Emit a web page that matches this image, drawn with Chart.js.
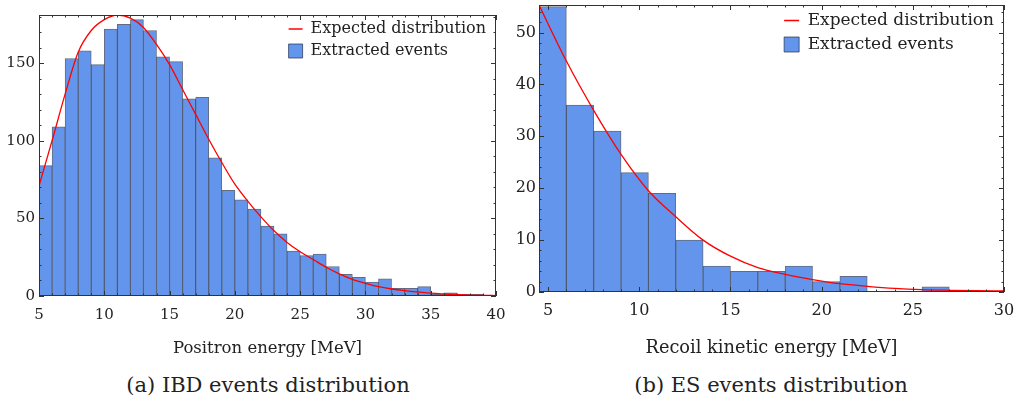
<!DOCTYPE html>
<html>
<head>
<meta charset="utf-8">
<script src="https://cdn.jsdelivr.net/npm/chart.js@4.4.0/dist/chart.umd.min.js"></script>
<style>
  html, body { margin: 0; padding: 0; background: #fff; }
  body { position: relative; width: 1015px; height: 398px; overflow: hidden; font-family: "DejaVu Serif", serif; color: #222; }
  canvas { position: absolute; top: 0; }
  .caption { position: absolute; top: 372px; width: 400px; text-align: center; font-size: 21px; line-height: 26px; }
</style>
</head>
<body>
<canvas id="ibd" width="510" height="362" style="left:0"></canvas>
<canvas id="es" width="505" height="362" style="left:510px"></canvas>
<div class="caption" style="left:68px">(a) IBD events distribution</div>
<div class="caption" style="left:571px">(b) ES events distribution</div>
<script>
// IBD events: positron energy, 1 MeV bins from 5 to 40 MeV
const ibdBinLow = [5, 6, 7, 8, 9, 10, 11, 12, 13, 14, 15, 16, 17, 18, 19, 20, 21, 22,
                   23, 24, 25, 26, 27, 28, 29, 30, 31, 32, 33, 34, 35, 36, 37, 38, 39];
const ibdBinWidth = 1;
const ibdCounts = [84, 109, 153, 158, 149, 172, 175, 178, 171, 154, 151, 127, 128, 89, 68, 62, 56, 45,
                   40, 29, 26, 27, 19, 14, 12, 9, 11, 5, 5, 6, 1, 2, 1, 1, 0];
// expected spectrum, sampled every MeV
const ibdCurveE = [5, 6, 7, 8, 9, 10, 11, 12, 13, 14, 15, 16, 17, 18, 19, 20, 21, 22,
                   23, 24, 25, 26, 27, 28, 29, 30, 31, 32, 33, 34, 35, 36, 37, 38, 39, 40];
const ibdCurveN = [71, 100, 130, 157, 171, 178, 181, 179, 173, 162, 149, 133, 117, 101, 86, 72, 61, 51,
                   42, 34.5, 28.5, 23.5, 18.5, 14.2, 10.7, 8.2, 6, 4.5, 3.4, 2.6, 1.8, 1.3, 0.9, 0.6, 0.4, 0.3];
const ibdTicksX = [5, 10, 15, 20, 25, 30, 35, 40];
const ibdTicksY = [0, 50, 100, 150];

// ES events: recoil kinetic energy, 1.5 MeV bins from 4.5 to 30 MeV
const esBinLow = [4.5, 6, 7.5, 9, 10.5, 12, 13.5, 15, 16.5, 18, 19.5, 21, 22.5, 24, 25.5, 27, 28.5];
const esBinWidth = 1.5;
const esCounts = [55, 36, 31, 23, 19, 10, 5, 4, 4, 5, 2, 3, 0, 0, 1, 0, 0];
const esCurveE = [4.5, 6, 7.5, 9, 10.5, 12, 13.5, 15, 16.5, 18, 19.5, 21, 22.5, 24, 25.5, 27, 28.5, 30];
const esCurveN = [55.3, 44.5, 35, 26.5, 19.5, 14.5, 10, 6.9, 4.7, 3.4, 2.4, 1.6, 1.1, 0.7, 0.45, 0.33, 0.25, 0.2];
const esTicksX = [5, 10, 15, 20, 25, 30];
const esTicksY = [0, 10, 20, 30, 40, 50];

const textColor = '#222';
const serif = 'DejaVu Serif';

// boxed frame with inward major/minor ticks on all four sides
const frameTicks = {
    id: 'frameTicks',
    afterDatasetsDraw(chart, args, opts) {
        const {ctx, chartArea: a, scales: {x, y}} = chart;
        const xMajor = x.ticks.map(t => t.value);
        const yMajor = y.ticks.map(t => t.value);
        ctx.save();
        ctx.strokeStyle = '#333';
        ctx.lineWidth = 1;
        ctx.beginPath();
        for (let k = Math.ceil(x.min / opts.xStep - 1e-9); k * opts.xStep <= x.max + 1e-9; k++) {
            const v = k * opts.xStep;
            const px = Math.round(x.getPixelForValue(v)) + 0.5;
            const len = xMajor.includes(v) ? 5 : 2.5;
            ctx.moveTo(px, a.bottom); ctx.lineTo(px, a.bottom - len);
            ctx.moveTo(px, a.top); ctx.lineTo(px, a.top + len);
        }
        for (let k = Math.ceil(y.min / opts.yStep - 1e-9); k * opts.yStep <= y.max + 1e-9; k++) {
            const v = k * opts.yStep;
            const py = Math.round(y.getPixelForValue(v)) + 0.5;
            const len = yMajor.includes(v) ? 5 : 2.5;
            ctx.moveTo(a.left, py); ctx.lineTo(a.left + len, py);
            ctx.moveTo(a.right, py); ctx.lineTo(a.right - len, py);
        }
        ctx.stroke();
        ctx.strokeRect(a.left + 0.5, a.top + 0.5, a.right - a.left - 1, a.bottom - a.top - 1);
        ctx.restore();
    }
};

// move the legend into the upper right corner of the plot
const legendInside = {
    id: 'legendInside',
    afterLayout(chart) {
        const lg = chart.legend, a = chart.chartArea;
        lg.left = a.right - lg.width;
        lg.right = a.right;
        lg.top = a.top;
        lg.bottom = a.top + lg.height;
    }
};

function histogram(p) {
    const bars = p.binLow.map((lo, i) => ({x: lo + p.binWidth / 2, y: p.counts[i]}));
    const curve = p.curveE.map((e, i) => ({x: e, y: p.curveN[i]}));
    return {
        type: 'bar',
        data: {
            datasets: [
                {
                    type: 'line',
                    label: 'Expected distribution',
                    data: curve,
                    borderColor: '#ff0000',
                    borderWidth: 1.3,
                    pointRadius: 0,
                    pointStyle: 'line',
                    cubicInterpolationMode: 'monotone',
                    fill: false
                },
                {
                    label: 'Extracted events',
                    data: bars,
                    backgroundColor: '#6495ED',
                    borderColor: 'rgba(30, 45, 80, 0.7)',
                    borderWidth: 1,
                    pointStyle: 'rect',
                    barPercentage: 1,
                    categoryPercentage: 1,
                    grouped: false
                }
            ]
        },
        options: {
            responsive: false,
            animation: false,
            events: [],
            layout: {padding: p.padding},
            plugins: {
                legend: {
                    position: 'chartArea',
                    align: 'start',
                    labels: {
                        usePointStyle: true,
                        pointStyleWidth: p.legendBox,
                        boxWidth: p.legendBox,
                        boxHeight: p.legendBox,
                        padding: p.legendGap,
                        color: textColor,
                        font: {family: serif, size: p.legendSize}
                    }
                },
                tooltip: {enabled: false},
                frameTicks: {xStep: 1, yStep: p.yMinor}
            },
            scales: {
                x: {
                    type: 'linear',
                    min: p.xMin,
                    max: p.xMax,
                    offset: false,
                    grid: {display: false, drawTicks: false},
                    border: {display: false},
                    ticks: {padding: p.xTickPad, color: textColor, maxRotation: 0, autoSkip: false,
                            font: {family: serif, size: p.tickSize}},
                    afterBuildTicks: s => { s.ticks = p.ticksX.map(v => ({value: v})); },
                    afterFit: s => { s.height = p.xAxisHeight; s.paddingLeft = 0; s.paddingRight = 0; },
                    title: {
                        display: true,
                        text: p.xTitle,
                        color: textColor,
                        padding: {top: 0, bottom: 3},
                        font: {family: serif, size: p.titleSize}
                    }
                },
                y: {
                    min: 0,
                    max: p.yMax,
                    grid: {display: false, drawTicks: false},
                    border: {display: false},
                    ticks: {padding: p.yTickPad, color: textColor, font: {family: serif, size: p.tickSize}},
                    afterBuildTicks: s => { s.ticks = p.ticksY.map(v => ({value: v})); },
                    afterFit: s => { s.width = p.yAxisWidth; s.paddingTop = 0; s.paddingBottom = 0; }
                }
            }
        },
        plugins: [frameTicks, legendInside]
    };
}

new Chart(document.getElementById('ibd'), histogram({
    binLow: ibdBinLow, binWidth: ibdBinWidth, counts: ibdCounts,
    curveE: ibdCurveE, curveN: ibdCurveN, ticksX: ibdTicksX, ticksY: ibdTicksY,
    xMin: 5, xMax: 40, yMax: 181, yMinor: 10,
    xTitle: 'Positron energy [MeV]',
    padding: {top: 15, right: 14, left: 0, bottom: 0},
    yAxisWidth: 39, xAxisHeight: 66, xTickPad: 10, yTickPad: 4,
    tickSize: 15, titleSize: 16.5, legendSize: 16, legendBox: 14, legendGap: 6
}));

new Chart(document.getElementById('es'), histogram({
    binLow: esBinLow, binWidth: esBinWidth, counts: esCounts,
    curveE: esCurveE, curveN: esCurveN, ticksX: esTicksX, ticksY: esTicksY,
    xMin: 4.5, xMax: 30, yMax: 55.3, yMinor: 2,
    xTitle: 'Recoil kinetic energy [MeV]',
    padding: {top: 5, right: 11, left: 0, bottom: 0},
    yAxisWidth: 29, xAxisHeight: 70, xTickPad: 9, yTickPad: 3,
    tickSize: 16, titleSize: 17.8, legendSize: 17, legendBox: 15, legendGap: 7
}));
</script>
</body>
</html>
